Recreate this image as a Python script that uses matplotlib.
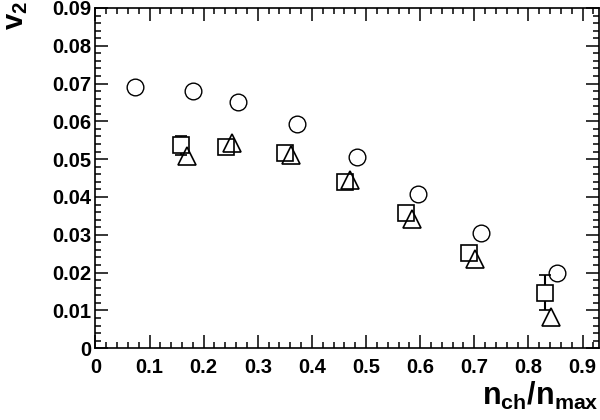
import numpy as np
import matplotlib
matplotlib.use('Agg')
import matplotlib.pyplot as plt
from matplotlib.ticker import MultipleLocator, FormatStrFormatter

# circles
x_circ = [0.073, 0.181, 0.264, 0.373, 0.483, 0.596, 0.712, 0.852]
y_circ = [0.0690, 0.0680, 0.0650, 0.0592, 0.0505, 0.0408, 0.0305, 0.0198]

# squares (with errors)
x_sq = [0.159, 0.241, 0.350, 0.461, 0.574, 0.690, 0.830]
y_sq = [0.0537, 0.0533, 0.0517, 0.0439, 0.0358, 0.0253, 0.0147]
err_sq = [0.0025, 0.0012, 0.0010, 0.0010, 0.0012, 0.0015, 0.0046]

# triangles
x_tri = [0.170, 0.252, 0.361, 0.471, 0.584, 0.701, 0.841]
y_tri = [0.0508, 0.0543, 0.0512, 0.0445, 0.0341, 0.0237, 0.0083]

plt.rcParams['font.family'] = 'Liberation Sans'
plt.rcParams['font.weight'] = 'bold'
plt.rcParams['mathtext.fontset'] = 'custom'
plt.rcParams['mathtext.rm'] = 'Liberation Sans:bold'
plt.rcParams['mathtext.it'] = 'Liberation Sans:bold'
plt.rcParams['mathtext.bf'] = 'Liberation Sans:bold'

fig = plt.figure(figsize=(6, 4.2), dpi=100)
ax = fig.add_axes([0.159, 0.171, 0.839, 0.81])

ms = 12
ax.errorbar(x_sq, y_sq, yerr=err_sq, fmt='s', ms=ms - 0.5, mfc='white', mec='black',
            mew=1.2, ecolor='black', elinewidth=1.5, capsize=4, capthick=2, zorder=3)
ax.plot(x_tri, y_tri, '^', ms=ms + 0.5, mfc='none', mec='black', mew=1.2, zorder=4)
ax.plot(x_circ, y_circ, 'o', ms=ms, mfc='none', mec='black', mew=1.0, zorder=4)

ax.set_xlim(0, 0.93)
ax.set_ylim(0, 0.09)

ax.xaxis.set_major_locator(MultipleLocator(0.1))
ax.xaxis.set_minor_locator(MultipleLocator(0.02))
ax.yaxis.set_major_locator(MultipleLocator(0.01))
ax.yaxis.set_minor_locator(MultipleLocator(0.002))
ax.xaxis.set_major_formatter(FormatStrFormatter('%g'))
ax.yaxis.set_major_formatter(FormatStrFormatter('%g'))

ax.tick_params(which='both', direction='in', top=True, right=True, width=1.1)
ax.tick_params(which='major', length=9.5, labelsize=14.5)
ax.tick_params(which='minor', length=4.5)
ax.tick_params(axis='x', pad=7)
ax.tick_params(axis='y', pad=3)
for s in ax.spines.values():
    s.set_linewidth(1.2)

fig.text(0.998, 0.035, r'$\mathregular{n_{ch}/n_{max}}$', ha='right', va='baseline', fontsize=22)
fig.text(0.003, 0.998, r'$\mathregular{v_{2}}$', ha='left', va='top', rotation=90, fontsize=21)

fig.savefig('out.png', dpi=100)
